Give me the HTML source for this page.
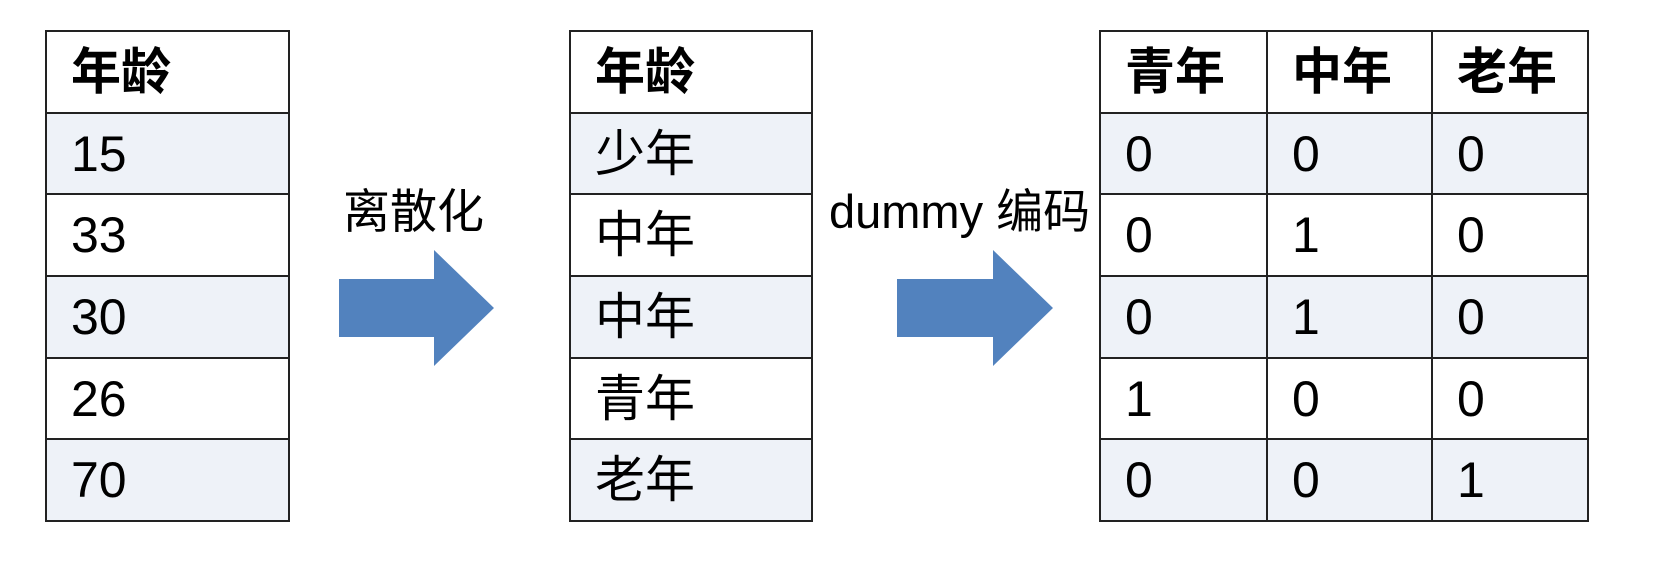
<!DOCTYPE html>
<html><head><meta charset="utf-8"><style>
body{margin:0;width:1656px;height:566px;background:#fff;position:relative;overflow:hidden;font-family:"Liberation Sans","Noto Sans CJK SC",sans-serif;}
table{position:absolute;border-collapse:collapse;}
td{border:2px solid #222;height:81.7px;padding:0 0 0 24px;font-size:50px;color:#000;vertical-align:middle;line-height:1;box-sizing:border-box;}
tr:nth-child(even) td{background:#eef2f8;}
tr:first-child td{font-weight:bold;font-size:50px;}
.lbl{position:absolute;font-size:47px;color:#000;white-space:nowrap;line-height:1;}
</style></head><body>
<table style="left:45px;top:30px;width:245px;">
<tr><td>年龄</td></tr><tr><td>15</td></tr><tr><td>33</td></tr><tr><td>30</td></tr><tr><td>26</td></tr><tr><td>70</td></tr>
</table>
<table style="left:569px;top:30px;width:244px;">
<tr><td>年龄</td></tr><tr><td>少年</td></tr><tr><td>中年</td></tr><tr><td>中年</td></tr><tr><td>青年</td></tr><tr><td>老年</td></tr>
</table>
<table style="left:1099px;top:30px;width:490px;">
<tr><td style="width:167px">青年</td><td style="width:165px">中年</td><td>老年</td></tr>
<tr><td>0</td><td>0</td><td>0</td></tr>
<tr><td>0</td><td>1</td><td>0</td></tr>
<tr><td>0</td><td>1</td><td>0</td></tr>
<tr><td>1</td><td>0</td><td>0</td></tr>
<tr><td>0</td><td>0</td><td>1</td></tr>
</table>
<div class="lbl" style="left:343px;top:188px;">离散化</div>
<div class="lbl" style="left:829px;top:188px;font-size:47px;">dummy 编码</div>
<svg style="position:absolute;left:0;top:0" width="1656" height="566">
<polygon points="339,279 434,279 434,250 494,308 434,366 434,337 339,337" fill="#5282be"/>
<polygon points="897,279 993,279 993,250 1053,308 993,366 993,337 897,337" fill="#5282be"/>
</svg>
</body></html>
